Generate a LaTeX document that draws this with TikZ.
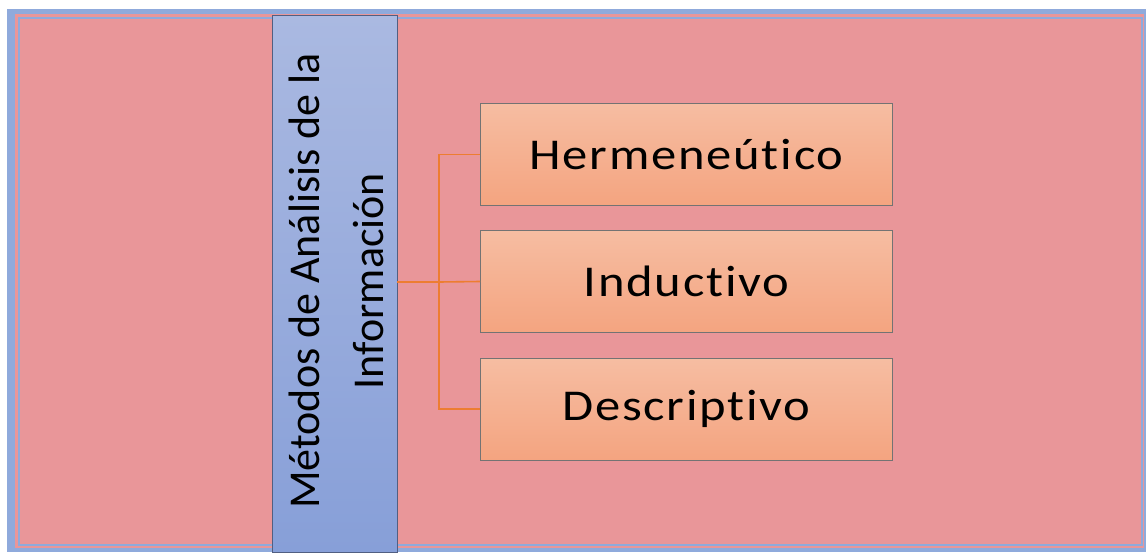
\documentclass[tikz,border=0pt]{standalone}
\usepackage{fontspec}
\setmainfont{Carlito}[Ligatures=NoCommon]
\newfontfamily\leaffont{Carlito}[Ligatures=NoCommon,FakeStretch=1.15,LetterSpace=4]
\definecolor{frameblue}{HTML}{8FAADC}
\definecolor{bgpink}{HTML}{E99699}
\definecolor{bandtop}{HTML}{AAB9E1}
\definecolor{bandbot}{HTML}{879FD8}
\definecolor{boxtop}{HTML}{F6BDA2}
\definecolor{boxbot}{HTML}{F4A480}
\definecolor{conn}{HTML}{ED7D31}
\begin{document}
\begin{tikzpicture}[x=1pt,y=-1pt,
  leaf/.style={draw=black!55,line width=0.8pt,top color=boxtop,bottom color=boxbot,
    minimum width=412pt,minimum height=102pt,inner sep=0pt,
    font=\leaffont\fontsize{44}{48}\selectfont},
  link/.style={draw=conn,line width=1.6pt}]
\useasboundingbox (0,0) rectangle (1146,552);
\fill[white] (0,0) rectangle (1146,552);
\fill[frameblue] (7,9) rectangle (1146,552);
\fill[bgpink] (15,14) rectangle (1144,548);
\draw[frameblue,line width=2pt] (19,18) rectangle (1142,545);
\fill[bgpink] (20,19) rectangle (1141,544);
% band
\path[draw=black!40!bandbot,line width=0.8pt,top color=bandtop,bottom color=bandbot] (272,15) rectangle (397,552);
\node[rotate=90,align=center,font=\fontsize{44}{64}\selectfont] (band) at (336,281) {Métodos de Análisis de la\\Información};
\coordinate (bandR) at (397,282);
\node[leaf] (h) at (686.5,154.5) {Hermeneútico};
\node[leaf] (i) at (686.5,281.5) {Inductivo};
\node[leaf] (d) at (686.5,409) {Descriptivo};
\coordinate (j) at (439,282);
\draw[link] (bandR) -- (j);
\draw[link] (h.west) -| (j) |- (d.west);
\draw[link] (j) -- (i.west);
\end{tikzpicture}
\end{document}
